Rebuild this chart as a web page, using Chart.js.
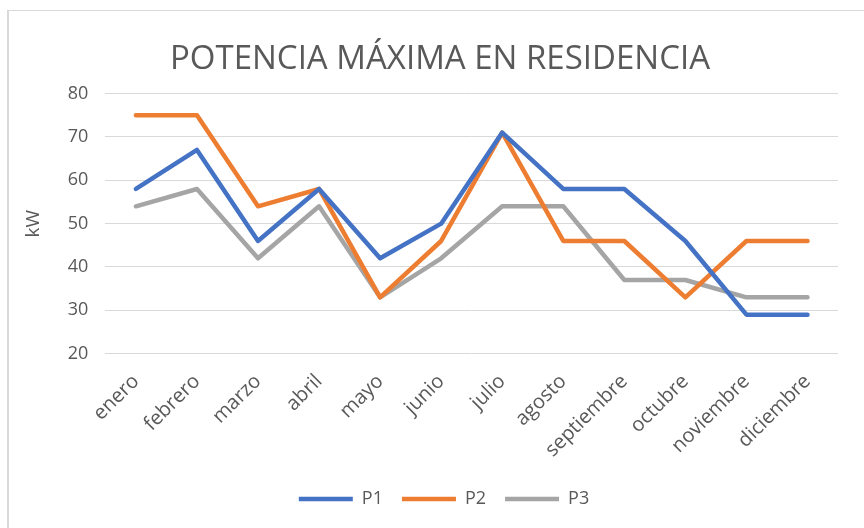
<!DOCTYPE html>
<html>
<head>
<meta charset="utf-8">
<script src="https://cdn.jsdelivr.net/npm/chart.js@4/dist/chart.umd.min.js"></script>
<style>
    html, body { margin: 0; padding: 0; background: #fff; }
    #frame {
        position: absolute; left: 7px; top: 10px; width: 870px; height: 530px;
        border-left: 2px solid #d9d9d9; border-top: 1px solid #d9d9d9;
    }
    #wrap { position: absolute; left: 0; top: 0; width: 864px; height: 528px; }
</style>
</head>
<body>
<div id="frame"></div>
<div id="wrap"><canvas id="chart"></canvas></div>
<script>
// Datos de potencia máxima (kW) por mes
const meses = ['enero', 'febrero', 'marzo', 'abril', 'mayo', 'junio', 'julio',
    'agosto', 'septiembre', 'octubre', 'noviembre', 'diciembre'];
const p1 = [58, 67, 46, 58, 42, 50, 71, 58, 58, 46, 29, 29];
const p2 = [75, 75, 54, 58, 33, 46, 71, 46, 46, 33, 46, 46];
const p3 = [54, 58, 42, 54, 33, 42, 54, 54, 37, 37, 33, 33];
const yTicks = [20, 30, 40, 50, 60, 70, 80];

const textColor = '#595959';
const fontFamily = '"Open Sans", "Liberation Sans", sans-serif';

function serie(label, data, color) {
    return {
        label: label,
        data: data,
        borderColor: color,
        backgroundColor: color,
        borderWidth: 4.5,
        borderCapStyle: 'round',
        borderJoinStyle: 'round',
        pointRadius: 0,
        pointHoverRadius: 0,
        pointStyle: 'line',
        tension: 0
    };
}

// centra título y leyenda un poco más a la derecha, como en Excel
const desplazar = {
    id: 'desplazar',
    afterLayout(chart) {
        chart.titleBlock.left += 10;
        chart.titleBlock.right += 10;
        chart.legend.left += 14;
        chart.legend.right += 14;
    }
};

const ctx = document.getElementById('chart').getContext('2d');
new Chart(ctx, {
    type: 'line',
    data: {
        labels: meses,
        datasets: [
            serie('P1', p1, '#4472C4'),
            serie('P2', p2, '#ED7D31'),
            serie('P3', p3, '#A5A5A5')
        ]
    },
    plugins: [desplazar],
    options: {
        responsive: true,
        maintainAspectRatio: false,
        animation: false,
        layout: { padding: { left: 22, right: 26, top: 40, bottom: 10 } },
        scales: {
            x: {
                offset: true,
                grid: { display: false },
                border: { display: false },
                // un poco más de espacio bajo las etiquetas
                afterFit: scale => { scale.height += 1; },
                ticks: {
                    color: textColor,
                    font: { family: fontFamily, size: 20 },
                    minRotation: 45,
                    maxRotation: 45,
                    padding: 8
                }
            },
            y: {
                min: 20,
                max: 80,
                afterBuildTicks: axis => { axis.ticks = yTicks.map(v => ({ value: v })); },
                grid: { color: '#d9d9d9', lineWidth: 1, drawTicks: false },
                border: { display: false },
                ticks: {
                    color: textColor,
                    font: { family: fontFamily, size: 18 },
                    padding: 17
                },
                title: {
                    display: true,
                    text: 'kW',
                    color: textColor,
                    font: { family: fontFamily, size: 19 },
                    padding: { top: 0, bottom: 6 }
                }
            }
        },
        plugins: {
            title: {
                display: true,
                text: 'POTENCIA MÁXIMA EN RESIDENCIA',
                color: textColor,
                font: { family: fontFamily, size: 33, weight: 'normal' },
                padding: { top: 0, bottom: 14 }
            },
            legend: {
                position: 'bottom',
                labels: {
                    usePointStyle: true,
                    pointStyleWidth: 54,
                    boxHeight: 10,
                    color: textColor,
                    font: { family: fontFamily, size: 18 },
                    padding: 19
                }
            },
            tooltip: { enabled: false }
        }
    }
});
</script>
</body>
</html>
